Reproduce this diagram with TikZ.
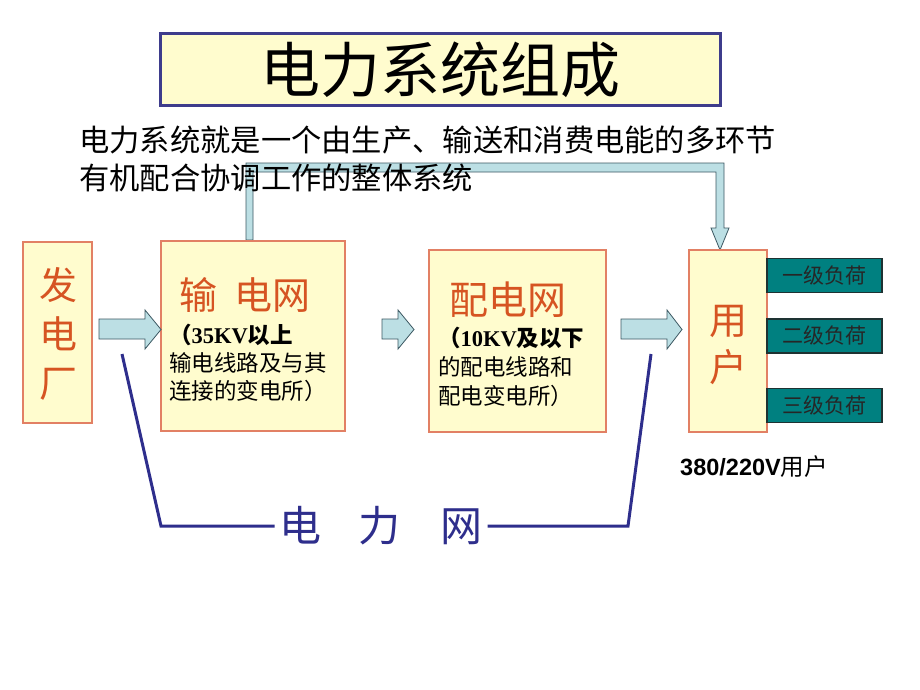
\documentclass[tikz,border=0pt]{standalone}
\usepackage{fontspec}
\setmainfont{Liberation Serif}
\newfontfamily\cjk{Noto Sans CJK SC}
\newfontfamily\arial{Liberation Sans}
\usetikzlibrary{calc}
\definecolor{boxfill}{RGB}{255,252,206}
\definecolor{boxedge}{RGB}{226,128,100}
\definecolor{titleedge}{RGB}{62,60,140}
\definecolor{headred}{RGB}{214,84,34}
\definecolor{pipe}{RGB}{188,223,228}
\definecolor{pipeedge}{RGB}{60,88,98}
\definecolor{loadfill}{RGB}{0,128,128}
\definecolor{loadedge}{RGB}{30,50,50}
\definecolor{netblue}{RGB}{46,46,140}

\begin{document}
\begin{tikzpicture}[x=1pt,y=-1pt,every node/.style={inner sep=0pt,font=\cjk},
  unitbox/.style={draw=boxedge,line width=1.6pt,fill=boxfill},
  loadbox/.style={draw=loadedge,line width=1.2pt,fill=loadfill,minimum width=115pt,minimum height=34pt,
    text=black!85,font=\cjk\fontsize{21}{21}\selectfont},
  pipearrow/.style={fill=pipe,draw=pipeedge,line width=0.8pt,line join=miter}]
\useasboundingbox (0,0) rectangle (920,690);
\fill[white] (0,0) rectangle (920,690);

% title
\node[draw=titleedge,line width=3pt,fill=boxfill,minimum width=560pt,minimum height=72pt] (title) at (440,70)
  {\fontsize{60}{60}\selectfont 电力系统组成};

% feedback pipe from the transmission net to the users
\coordinate (fbfoot) at (249.5,240);
\coordinate (fbtip) at (720,250);
\draw[pipearrow] (246,240) -- (246,163) -- (724,163) -- (724,228) -- (729,228) -- (fbtip)
  -- (711,228) -- (716,228) -- (716,172) -- (253,172) -- (253,240) -- cycle;

\node[anchor=west] (intro1) at (79,140) {\fontsize{30.3}{30.3}\selectfont 电力系统就是一个由生产、输送和消费电能的多环节};
\node[anchor=west] (intro2) at (79,178) {\fontsize{30.3}{30.3}\selectfont 有机配合协调工作的整体系统};

% main blocks
\node[unitbox,minimum width=69pt,minimum height=181pt] (plant) at (57.5,332.5) {};
\node[text=headred,align=center,font=\cjk\fontsize{38}{49}\selectfont] (plantlabel) at (58,334) {发\\电\\厂};

\node[unitbox,minimum width=184pt,minimum height=190pt] (trans) at (253,336) {};
\node[text=headred,font=\cjk\fontsize{38}{38}\selectfont] (translabel) at (245,295) {输\hspace{17pt}电网};
\node[anchor=west,align=left,font=\cjk\fontsize{22.5}{28}\selectfont] (transtext) at (169,363)
  {{\bfseries （{\rmfamily 35KV}以上}\\输电线路及与其\\连接的变电所）};

\node[unitbox,minimum width=177pt,minimum height=182pt] (dist) at (517.5,341) {};
\node[text=headred,font=\cjk\fontsize{39}{39}\selectfont] (distlabel) at (508,300) {配电网};
\node[anchor=west,align=left,font=\cjk\fontsize{22.5}{29}\selectfont] (disttext) at (438,367)
  {{\bfseries （{\rmfamily 10KV}及以下}\\的配电线路和\\配电变电所）};

\node[unitbox,minimum width=78pt,minimum height=182pt] (user) at (728,341) {};
\node[text=headred,align=center,font=\cjk\fontsize{38}{47}\selectfont] (userlabel) at (728,345) {用\\户};

% loads
\node[loadbox] (load1) at (824.5,275.5) {一级负荷};
\node[loadbox] (load2) at (824.5,336) {二级负荷};
\node[loadbox] (load3) at (824.5,405.5) {三级负荷};
\node[anchor=west,font=\cjk\fontsize{23.5}{23.5}\selectfont] (uservolt) at (680,467) {{\arial\bfseries 380/220V}用户};

% flow arrows
\foreach \xa/\xb/\xc in {99/145/161,382/398/414,621/667/682}
  \draw[pipearrow] (\xa,319) -- (\xb,319) -- (\xb,310) -- (\xc,329.5) -- (\xb,349) -- (\xb,339) -- (\xa,339) -- cycle;

% power network bracket
\node[text=netblue,outer sep=5pt,font=\cjk\fontsize{42}{42}\selectfont] (netlabel) at (381,526)
  {电\hspace{37pt}力\hspace{40pt}网};
\coordinate (netL) at (122,354);
\coordinate (netLb) at (161,526);
\coordinate (netR) at (651,354);
\coordinate (netRb) at (628,526);
\draw[netblue,line width=3pt] (netL) -- (netLb) -- (netlabel.west);
\draw[netblue,line width=3pt] (netlabel.east) -- (netRb) -- (netR);
\end{tikzpicture}
\end{document}
